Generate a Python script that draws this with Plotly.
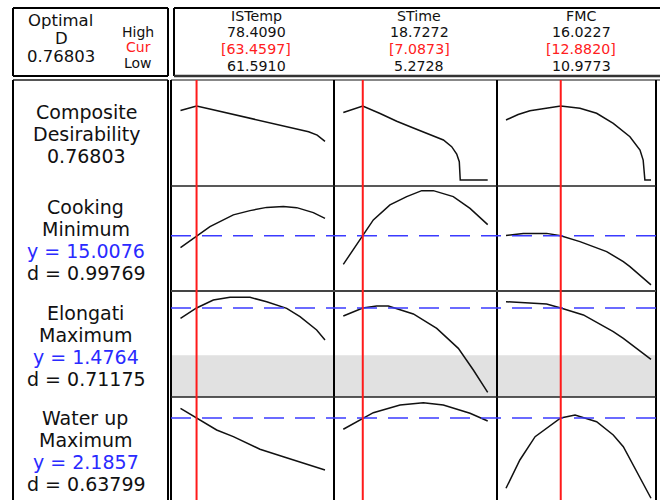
import plotly.graph_objects as go

W, H = 660, 500

# ---------------- data ----------------
factor_names = ["ISTemp", "STime", "FMC"]
factor_high = [78.4090, 18.7272, 16.0227]
factor_cur = [63.4597, 7.0873, 12.8820]
factor_low = [61.5910, 5.2728, 10.9773]
factor_high_labels = ["78.4090", "18.7272", "16.0227"]
factor_cur_labels = ["[63.4597]", "[7.0873]", "[12.8820]"]
factor_low_labels = ["61.5910", "5.2728", "10.9773"]

optimal_D_label = "0.76803"

response_names = ["Cooking", "Elongati", "Water up"]
response_goals = ["Minimum", "Maximum", "Maximum"]
response_y = [15.0076, 1.4764, 2.1857]
response_y_labels = ["y = 15.0076", "y = 1.4764", "y = 2.1857"]
response_d_labels = ["d = 0.99769", "d = 0.71175", "d = 0.63799"]
elong_lower = 1.0

# Composite desirability
comp_istemp_x = [61.591, 62.5, 63.46, 65.0, 67.0, 69.0, 71.0, 73.0, 75.0, 76.5, 77.5, 78.409]
comp_istemp_y = [0.72, 0.745, 0.768, 0.737, 0.697, 0.657, 0.617, 0.577, 0.537, 0.50, 0.465, 0.40]
comp_stime_x = [5.2728, 6.2, 7.0873, 8.7, 10.25, 11.8, 13.35, 14.6, 15.37, 15.84, 16.08, 16.17, 18.7272]
comp_stime_y = [0.70, 0.735, 0.768, 0.69, 0.61, 0.54, 0.467, 0.415, 0.346, 0.27, 0.19, 0.0, 0.0]
comp_fmc_x = [10.9773, 11.4, 11.81, 12.882, 13.55, 14.13, 14.71, 15.29, 15.64, 15.75, 15.81, 16.0227]
comp_fmc_y = [0.622, 0.68, 0.719, 0.768, 0.744, 0.692, 0.588, 0.449, 0.311, 0.207, 0.0, 0.0]

# Cooking
cook_istemp_x = [61.591, 63.46, 65.02, 67.74, 69.68, 71.62, 73.56, 75.12, 77.05, 78.409]
cook_istemp_y = [14.53, 15.0076, 15.37, 15.84, 16.01, 16.14, 16.17, 16.13, 15.93, 15.70]
cook_stime_x = [5.2728, 7.0873, 8.07, 9.62, 11.18, 12.58, 13.66, 15.52, 17.08, 18.7272]
cook_stime_y = [13.86, 15.0076, 15.64, 16.24, 16.57, 16.81, 16.81, 16.57, 16.10, 15.45]
cook_fmc_x = [10.9773, 11.58, 12.39, 12.882, 13.55, 14.48, 15.06, 15.29, 16.0227]
cook_fmc_y = [15.02, 15.10, 15.10, 15.0076, 14.77, 14.37, 13.97, 13.77, 13.04]

# Elongation
elong_istemp_x = [61.591, 63.46, 65.41, 67.35, 69.68, 71.62, 73.95, 75.50, 77.44, 78.409]
elong_istemp_y = [1.372, 1.4764, 1.557, 1.584, 1.584, 1.540, 1.473, 1.389, 1.254, 1.153]
elong_stime_x = [5.2728, 7.0873, 8.38, 9.47, 11.80, 13.98, 15.99, 17.39, 18.7272]
elong_stime_y = [1.396, 1.4764, 1.497, 1.497, 1.416, 1.271, 1.069, 0.850, 0.625]
elong_fmc_x = [10.9773, 11.81, 12.39, 12.882, 13.67, 14.71, 15.06, 16.0227]
elong_fmc_y = [1.540, 1.530, 1.517, 1.4764, 1.406, 1.237, 1.170, 0.958]

# Water uptake
water_istemp_x = [61.591, 63.46, 65.80, 67.74, 70.84, 73.56, 76.28, 78.409]
water_istemp_y = [2.283, 2.1857, 2.066, 1.999, 1.873, 1.799, 1.723, 1.666]
water_stime_x = [5.2728, 7.0873, 8.07, 10.56, 12.73, 14.59, 17.08, 18.7272]
water_stime_y = [2.073, 2.1857, 2.239, 2.316, 2.339, 2.316, 2.233, 2.156]
water_fmc_x = [10.9773, 11.46, 11.99, 12.882, 13.38, 14.13, 14.71, 15.06, 16.0227]
water_fmc_y = [1.483, 1.766, 1.999, 2.1857, 2.216, 2.149, 2.016, 1.899, 1.383]

curves = [
    [(comp_istemp_x, comp_istemp_y), (comp_stime_x, comp_stime_y), (comp_fmc_x, comp_fmc_y)],
    [(cook_istemp_x, cook_istemp_y), (cook_stime_x, cook_stime_y), (cook_fmc_x, cook_fmc_y)],
    [(elong_istemp_x, elong_istemp_y), (elong_stime_x, elong_stime_y), (elong_fmc_x, elong_fmc_y)],
    [(water_istemp_x, water_istemp_y), (water_stime_x, water_stime_y), (water_fmc_x, water_fmc_y)],
]

# ---------------- layout geometry (pixels) ----------------
def PX(p):
    return p / W

def PY(p):
    return 1 - p / H

col_px = [(171, 334), (334, 497), (497, 656)]
col_data_px = [(180.5, 325.0), (343.3, 487.7), (506.0, 651.0)]
row_px = [(80, 186), (186, 291), (291, 397), (397, 500)]
row_yrange = [[-0.0622, 1.0373], [12.795, 16.995], [0.5775, 1.648], [1.3657, 2.3957]]

def xrange_for(c):
    lo, hi = factor_low[c], factor_high[c]
    p0, p1 = col_data_px[c]
    per = (hi - lo) / (p1 - p0)
    a, b = col_px[c]
    return [lo - (p0 - a) * per, hi + (b - p1) * per]

fig = go.Figure()
layout = dict(
    width=W, height=H,
    margin=dict(l=0, r=0, t=0, b=0),
    paper_bgcolor="white", plot_bgcolor="rgba(0,0,0,0)",
    showlegend=False,
    font=dict(family="DejaVu Sans", color="#111"),
)

def ax_name(n):
    return "" if n == 1 else str(n)

for r in range(4):
    for c in range(3):
        n = r * 3 + c + 1
        s = ax_name(n)
        layout["xaxis" + s] = dict(domain=[PX(col_px[c][0]), PX(col_px[c][1])], range=xrange_for(c),
                                   visible=False, fixedrange=True, anchor="y" + s)
        layout["yaxis" + s] = dict(domain=[PY(row_px[r][1]), PY(row_px[r][0])], range=row_yrange[r],
                                   visible=False, fixedrange=True, anchor="x" + s)
        xs, ys = curves[r][c]
        fig.add_trace(go.Scatter(x=xs, y=ys, mode="lines", line=dict(color="#111", width=1.5),
                                 xaxis="x" + s, yaxis="y" + s, hoverinfo="skip"))

shapes = []
# gray band (below lower bound of Elongation)
shapes.append(dict(type="rect", xref="paper", yref="y7", x0=PX(171), x1=PX(656),
                   y0=row_yrange[2][0], y1=elong_lower, fillcolor="#e1e1e1", line=dict(width=0),
                   layer="below"))

def pline(x0, y0, x1, y1, color="#000", width=2):
    shapes.append(dict(type="line", xref="paper", yref="paper", x0=PX(x0), y0=PY(y0),
                       x1=PX(x1), y1=PY(y1), line=dict(color=color, width=width)))

# header boxes
pline(13, 8, 168, 8); pline(13, 76, 168, 76); pline(13, 8, 13, 76); pline(168, 8, 168, 76)
pline(174, 8, 660, 8); pline(174, 8, 174, 76); pline(174, 76, 660, 76, "#333", 2.5)
pline(171, 80, 660, 80, "#888", 2)
# left label box
pline(13, 80, 168, 80, "#555", 2); pline(13, 80, 13, 500); pline(168, 80, 168, 500)
# plot grid
pline(171, 80, 171, 500); pline(334, 80, 334, 500); pline(497, 80, 497, 500); pline(656, 80, 656, 500)
pline(171, 186, 656, 186, "#222", 1.5); pline(171, 291, 656, 291, "#444", 2); pline(171, 397, 656, 397, "#222", 1.5)

# blue target lines
for i in range(3):
    s = ax_name((i + 1) * 3 + 1)
    shapes.append(dict(type="line", xref="paper", yref="y" + s, x0=PX(171), x1=PX(656),
                       y0=response_y[i], y1=response_y[i],
                       line=dict(color="#3b3bff", width=1.5, dash="20px,11px")))

# red current-setting lines
for c in range(3):
    s = ax_name(c + 1)
    shapes.append(dict(type="line", xref="x" + s, yref="paper", x0=factor_cur[c], x1=factor_cur[c],
                       y0=PY(80), y1=PY(500), line=dict(color="#ff1a1a", width=2)))

layout["shapes"] = shapes

RED = "#ff2020"
BLUE = "#2a2aff"
BLACK = "#111111"

anns = []
def ann(text, x, y, size, color=BLACK):
    anns.append(dict(text=text, x=PX(x), y=PY(y), xref="paper", yref="paper", showarrow=False,
                     xanchor="center", yanchor="middle", font=dict(size=size, color=color)))

# header, left box
ann("Optimal", 60, 20, 16.5)
ann("D", 62, 38.5, 16.5)
ann(optimal_D_label, 61, 57, 16.5)
ann("High", 138, 32, 14)
ann("Cur", 138, 47.5, 14, RED)
ann("Low", 138, 63, 14)

# header, factor columns
head_cx = [256, 419, 581]
head_y = [16, 32.5, 49, 65.5]
HF = 14.2
for c in range(3):
    ann(factor_names[c], head_cx[c], head_y[0], HF)
    ann(factor_high_labels[c], head_cx[c], head_y[1], HF)
    ann(factor_cur_labels[c], head_cx[c], head_y[2], HF, RED)
    ann(factor_low_labels[c], head_cx[c], head_y[3], HF)

# row labels
LBL = 19
ann("Composite", 87, 112, LBL)
ann("Desirability", 87, 134, LBL)
ann(optimal_D_label, 86, 156, LBL)

row_label_y = [(207, 229, 251, 273), (313, 335, 357, 379), (418, 440, 462, 484)]
for i in range(3):
    y1, y2, y3, y4 = row_label_y[i]
    ann(response_names[i], 85, y1, LBL)
    ann(response_goals[i], 86, y2, LBL)
    ann(response_y_labels[i], 86, y3, LBL, BLUE)
    ann(response_d_labels[i], 86, y4, LBL)

layout["annotations"] = anns
fig.update_layout(**layout)
fig.write_html("out.html", config={"displayModeBar": False},
               post_script="document.body.style.margin='0px';document.body.style.overflow='hidden';")
